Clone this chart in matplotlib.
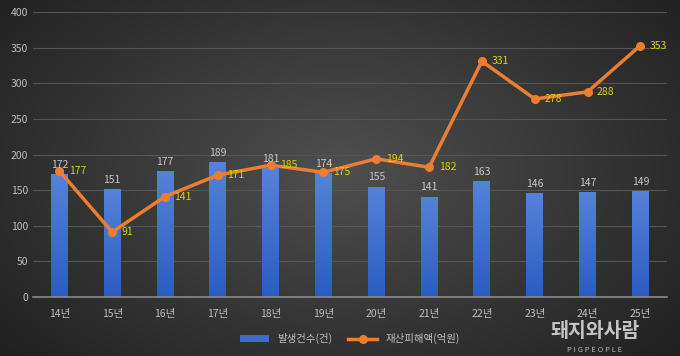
import matplotlib.pyplot as plt
import numpy as np
from matplotlib.colors import LinearSegmentedColormap

plt.rcParams['font.family'] = ['Noto Sans CJK KR', 'DejaVu Sans']

years = ['14년', '15년', '16년', '17년', '18년', '19년', '20년', '21년', '22년', '23년', '24년', '25년']
cases = [172, 151, 177, 189, 181, 174, 155, 141, 163, 146, 147, 149]
damage = [177, 91, 141, 171, 185, 175, 194, 182, 331, 278, 288, 353]

fig = plt.figure(figsize=(6.8, 3.56), dpi=100)

# radial background
bg = fig.add_axes([0, 0, 1, 1])
yy, xx = np.mgrid[0:356, 0:680]
r = np.sqrt(((xx - 340) / 420.0) ** 2 + ((yy - 170) / 260.0) ** 2)
shade = np.clip(0.31 - 0.17 * r, 0.12, 0.31)
bg.imshow(np.dstack([shade, shade, shade]), aspect='auto', extent=[0, 1, 0, 1])
bg.axis('off')

ax = fig.add_axes([0.0485, 0.166, 0.932, 0.8])
ax.patch.set_alpha(0)
x = np.arange(len(years))

bars = ax.bar(x, cases, width=0.32, color='#3d6dcc', zorder=2, label='발생건수(건)')
# vertical gradient inside bars
cmap = LinearSegmentedColormap.from_list('bar', ['#2b5cc2', '#5583d9'])
grad = np.linspace(0, 1, 256).reshape(-1, 1)
for b in bars:
    im = ax.imshow(grad, cmap=cmap, origin='lower', aspect='auto', zorder=2,
                   extent=[b.get_x(), b.get_x() + b.get_width(), 0, b.get_height()])
    im.set_clip_path(b)
line, = ax.plot(x, damage, color='#ed7d31', lw=2.5, marker='o', ms=5.5, zorder=3, label='재산피해액(억원)')

for xi, v in zip(x, cases):
    ax.text(xi, v + 6, str(v), ha='center', va='bottom', color='#c8c8c8', fontsize=7.5, zorder=4)
for xi, v in zip(x, damage):
    ax.text(xi + 0.18, v, str(v), ha='left', va='center', color='#d6d600', fontsize=7.5, zorder=4)

ax.set_xlim(-0.5, len(years) - 0.5)
ax.set_ylim(0, 400)
ax.set_yticks(np.arange(0, 401, 50))
ax.set_xticks(x)
ax.set_xticklabels(years)
ax.grid(axis='y', color='#555555', lw=0.8, zorder=0)
for s in ['top', 'right', 'left']:
    ax.spines[s].set_visible(False)
ax.spines['bottom'].set_color('#8a8a8a')
ax.spines['bottom'].set_linewidth(1.2)
ax.tick_params(length=0, colors='#c0c0c0', labelsize=7.5)
ax.tick_params(axis='x', pad=9)

ax.legend([bars, line], ['발생건수(건)', '재산피해액(억원)'], loc='upper center',
          bbox_to_anchor=(0.5, -0.095), ncol=2, frameon=False,
          fontsize=7.5, labelcolor='#c0c0c0', handlelength=2.8, columnspacing=1.5)

# watermark
fig.text(0.875, 0.068, '돼지와사람', ha='center', va='center', color='#e0e0e0', fontsize=14,
         fontweight='bold', alpha=0.85)
fig.text(0.875, 0.017, 'P I G P E O P L E', ha='center', va='center', color='#d0d0d0', fontsize=5.5,
         alpha=0.85)

fig.savefig('out.png', dpi=100)
